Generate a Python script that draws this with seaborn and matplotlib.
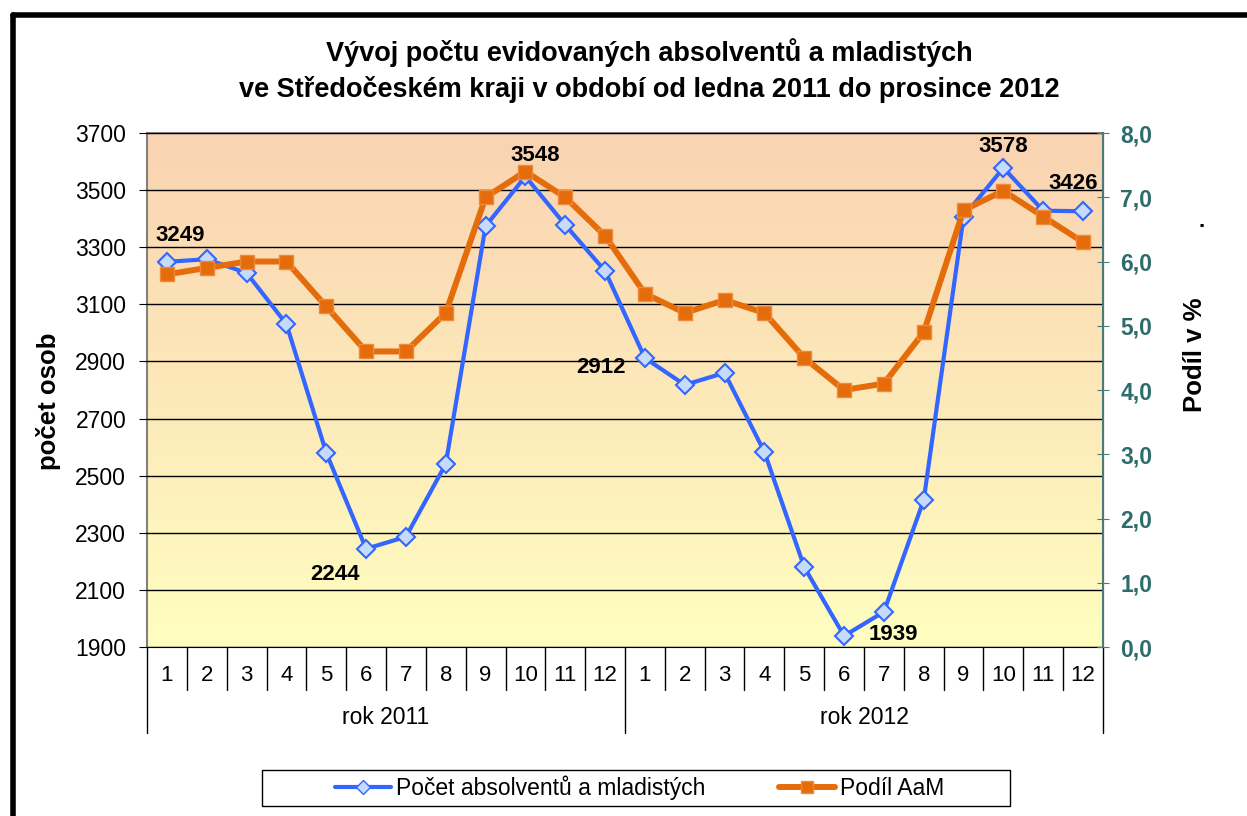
import numpy as np
import pandas as pd
import matplotlib.pyplot as plt
import seaborn as sns
from matplotlib.lines import Line2D
from matplotlib.patches import Rectangle
from matplotlib.ticker import FuncFormatter

months = [str(m) for m in range(1, 13)] * 2
years = ["rok 2011", "rok 2012"]
pocet = [3249, 3258, 3210, 3031, 2580, 2244, 2286, 2541, 3374, 3548, 3378, 3217,
         2912, 2818, 2860, 2583, 2180, 1939, 2023, 2415, 3407, 3578, 3428, 3426]
podil = [5.8, 5.9, 6.0, 6.0, 5.3, 4.6, 4.6, 5.2, 7.0, 7.4, 7.0, 6.4,
         5.5, 5.2, 5.4, 5.2, 4.5, 4.0, 4.1, 4.9, 6.8, 7.1, 6.7, 6.3]
# which points get a value label, and where (offset in pixels)
labels_idx = [0, 5, 9, 12, 17, 21, 23]
labels_off = [(13, 26), (-31, -26), (10, 21), (-44, -9), (49, 1), (0, 21), (-10, 28)]

df = pd.DataFrame({"i": np.arange(len(pocet)), "pocet": pocet, "podil": podil})

sns.set_style("white")
plt.rcParams['font.family'] = ['Liberation Sans', 'DejaVu Sans']
plt.rcParams['text.color'] = 'black'

fig = plt.figure(figsize=(12.47, 8.16), dpi=100)
ax = fig.add_axes([0.1179, 0.2071, 0.7666, 0.6299])
ax2 = ax.twinx()

# gradient background
grad = np.linspace(0, 1, 256).reshape(-1, 1)
top = np.array([250, 211, 178]) / 255
bot = np.array([255, 254, 192]) / 255
img = top * (1 - grad[..., None]) + bot * grad[..., None]
img = np.repeat(img, 2, axis=1)
ax.imshow(img, extent=(-0.5, 23.5, 1900, 3700), aspect='auto', zorder=0)

sns.lineplot(data=df, x="i", y="pocet", ax=ax, color="#3366ff", lw=3,
             marker="D", markersize=9, markerfacecolor="#c6dafa",
             markeredgecolor="#3366ff", markeredgewidth=1.5, zorder=3)
sns.lineplot(data=df, x="i", y="podil", ax=ax2, color="#e46c0a", lw=4.3,
             marker="s", markersize=10, markerfacecolor="#e46c0a",
             markeredgecolor="#f08a3a", markeredgewidth=1, zorder=3)

ax.set_xlim(-0.5, 23.5)
ax.set_ylim(1900, 3700)
ax.set_yticks(range(1900, 3701, 200))
ax2.set_ylim(0, 8)
ax2.set_yticks(range(0, 9))
ax2.yaxis.set_major_formatter(FuncFormatter(lambda v, p: f"{v:.1f}".replace(".", ",")))

ax.yaxis.grid(True, color="black", lw=1)
ax.set_axisbelow(False)
for ln in ax.get_ygridlines():
    ln.set_zorder(1)

ax.set_xlabel("")
ax.set_ylabel("")
ax2.set_xlabel("")
ax2.set_ylabel("")
ax.set_xticks([])
ax.tick_params(axis='y', labelsize=16.5, colors='black', labelcolor='black', length=6,
               direction='out', left=True, pad=9)
ax2.tick_params(axis='y', labelsize=16.5, colors='#4a7a7a', labelcolor='#2e6b6b', length=9,
                direction='inout', right=True, pad=8)
for t in ax2.get_yticklabels():
    t.set_fontweight('bold')

for s in ["left", "top"]:
    ax.spines[s].set_color("#808080")
    ax.spines[s].set_linewidth(1.5)
ax.spines["bottom"].set_color("black")
ax2.spines["right"].set_color("#4a7a7a")
ax2.spines["right"].set_linewidth(1.5)
for s in ["left", "top", "bottom"]:
    ax2.spines[s].set_visible(False)

# category axis: months and years
xt = ax.get_xaxis_transform()
for k in range(25):
    depth = -0.167 if k % 12 == 0 else -0.0837
    ax.plot([k - 0.5, k - 0.5], [0, depth], transform=xt, color="black", lw=1, clip_on=False)
for i, m in enumerate(months):
    ax.text(i, -0.056, m, transform=xt, ha="center", va="center", fontsize=16)
for j, y in enumerate(years):
    ax.text(12 * j + 5.5, -0.138, y, transform=xt, ha="center", va="center", fontsize=16.5)

# value labels
for idx, off in zip(labels_idx, labels_off):
    ax.annotate(str(pocet[idx]), (idx, pocet[idx]), xytext=off, textcoords="offset pixels",
                ha="center", va="center", fontsize=16, fontweight="bold", zorder=5)

fig.text(0.521, 0.914, "Vývoj počtu evidovaných absolventů a mladistých\n"
         "ve Středočeském kraji v období od ledna 2011 do prosince 2012",
         ha="center", va="center", fontsize=19.5, fontweight="bold", linespacing=1.42)
fig.text(0.0385, 0.5086, "počet osob", rotation=90, ha="center", va="center",
         fontsize=18.5, fontweight="bold")
fig.text(0.9587, 0.565, "Podíl v %", rotation=90, ha="center", va="center",
         fontsize=18.5, fontweight="bold")
fig.text(0.964, 0.728, ".", ha="center", va="center", fontsize=16, fontweight="bold")

handles = [Line2D([], [], color="#3366ff", lw=3, marker="D", markersize=7,
                  markerfacecolor="#c6dafa", markeredgecolor="#3366ff"),
           Line2D([], [], color="#e46c0a", lw=4.3, marker="s", markersize=8,
                  markerfacecolor="#e46c0a", markeredgecolor="#f08a3a")]
fig.legend(handles, ["Počet absolventů a mladistých", "Podíl AaM"],
           loc="center left", bbox_to_anchor=(335 / 1247, 0.0343), ncol=2, fontsize=16.5,
           frameon=False, borderpad=0, borderaxespad=0, handlelength=2.44,
           columnspacing=3.2, handletextpad=0.22)
fig.add_artist(Rectangle((262 / 1247, 1 - 806 / 816), 748 / 1247, 36 / 816,
                         transform=fig.transFigure, fill=False, ec="black", lw=1))

# thick outer frame (top and left edges visible)
fig.add_artist(Line2D([0.0104, 1.0], [0.9816, 0.9816], color="black", lw=4, transform=fig.transFigure))
fig.add_artist(Line2D([0.0104, 0.0104], [0.9816, 0.0], color="black", lw=4, transform=fig.transFigure))

fig.savefig("out.png", dpi=100)
